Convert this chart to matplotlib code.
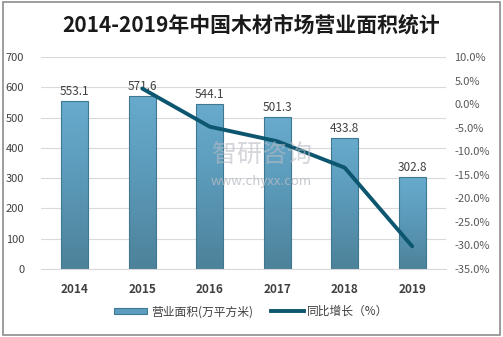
import numpy as np
import matplotlib.pyplot as plt
from matplotlib.patches import Rectangle
from matplotlib.lines import Line2D
from matplotlib.colors import LinearSegmentedColormap

plt.rcParams['font.family'] = ['Noto Sans CJK SC', 'DejaVu Sans']

years = ['2014', '2015', '2016', '2017', '2018', '2019']
area = [553.1, 571.6, 544.1, 501.3, 433.8, 302.8]
growth_years = ['2015', '2016', '2017', '2018', '2019']
growth = [3.3, -4.8, -7.9, -13.5, -30.2]

bar_color = '#5c9dbd'
bar_edge = '#3e7892'
line_color = '#0d5670'
grad = LinearSegmentedColormap.from_list('bar', ['#4d8299', '#5a98b7', '#68abcd'])

fig = plt.figure(figsize=(5.03, 3.37), dpi=100)
ax = fig.add_axes([0.0815, 0.202, 0.805, 0.629])
ax2 = ax.twinx()

x = np.arange(len(years))
bars = ax.bar(x, area, width=0.4, color='none', edgecolor=bar_edge, linewidth=0.8, zorder=3)
g = np.linspace(0, 1, 256).reshape(-1, 1)
for b in bars:
    bx, by = b.get_x(), b.get_y()
    bw, bh = b.get_width(), b.get_height()
    im = ax.imshow(g, cmap=grad, origin='lower', aspect='auto',
                   extent=[bx, bx + bw, by, by + bh], zorder=2)
    im.set_clip_path(b)
for xi, v in zip(x, area):
    ax.text(xi, v + 10, f'{v}', ha='center', va='bottom', fontsize=8.5, color='#404040')

# watermark
fig.text(0.52, 0.54, '智研咨询', ha='center', va='center', fontsize=18, color='#b8bcc4', alpha=0.6)
fig.text(0.52, 0.462, 'www.chyxx.com', ha='center', va='center', fontsize=9.5, color='#b8bcc4', alpha=0.8)

gx = [years.index(y) for y in growth_years]
ax2.plot(gx, growth, color=line_color, linewidth=2.8, solid_capstyle='round', zorder=3)

ax.set_xlim(-0.5, len(years) - 0.5)
ax.set_ylim(0, 700)
ax.set_yticks(range(0, 701, 100))
ax2.set_ylim(-35, 10)
ax2.set_yticks(np.arange(-35, 10.1, 5))
ax2.set_yticklabels([f'{t:.1f}%' for t in np.arange(-35, 10.1, 5)])

ax.set_xticks(x)
ax.set_xticklabels(years, fontweight='bold', fontsize=8.5, color='#404040')
ax.tick_params(axis='y', labelsize=8, colors='#404040', length=0, pad=12)
ax2.tick_params(axis='y', labelsize=8, colors='#595959', length=0, pad=6)
ax.tick_params(axis='x', length=0, pad=10)

ax.yaxis.grid(True, color='#d9d9d9', linewidth=0.8, zorder=0)
ax.set_axisbelow(True)
for a in (ax, ax2):
    for s in a.spines.values():
        s.set_visible(False)
ax.spines['bottom'].set_visible(True)
ax.spines['bottom'].set_color('#d9d9d9')

fig.text(0.5, 0.925, '2014-2019年中国木材市场营业面积统计', ha='center', va='center',
         fontsize=15, fontweight='bold', color='#1a1a1a')

handles = [Rectangle((0, 0), 1, 1, facecolor=bar_color, edgecolor=bar_edge, linewidth=0.8),
           Line2D([0], [0], color=line_color, linewidth=2.8)]
fig.legend(handles, ['营业面积(万平方米)', '同比增长（%）'], loc='center', bbox_to_anchor=(0.5, 0.075),
           ncol=2, frameon=False, fontsize=8.5, handlelength=2.8, handleheight=0.5,
           columnspacing=1.5, handletextpad=0.3, labelcolor='#404040')

fig.patches.append(Rectangle((0.005, 0.006), 0.99, 0.988, transform=fig.transFigure,
                             fill=False, edgecolor='#8c8c8c', linewidth=1.2))

fig.savefig('out.png', dpi=100)
